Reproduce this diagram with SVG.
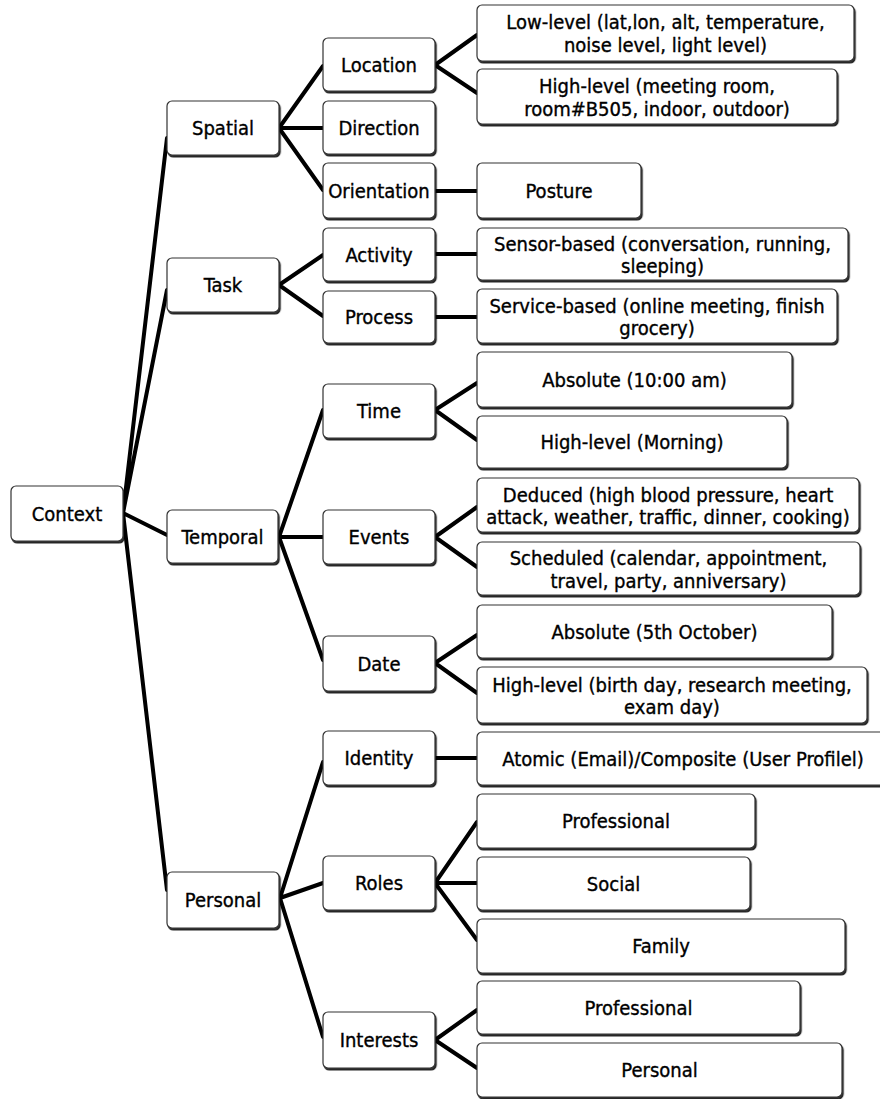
<svg xmlns="http://www.w3.org/2000/svg" width="880" height="1099" viewBox="0 0 880 1099">
<defs>
<filter id="sh" x="-5%" y="-10%" width="115%" height="130%">
<feDropShadow dx="1.2" dy="2" stdDeviation="0.7" flood-color="#000" flood-opacity="0.85"/>
</filter>
<style>
.box{fill:#fff;stroke:#333;stroke-width:1.2;filter:url(#sh)}
.t{font-family:"DejaVu Sans Condensed","DejaVu Sans",sans-serif;font-stretch:condensed;font-size:20px;fill:#000;stroke:#000;stroke-width:0.35;text-anchor:middle}
.c{fill:none;stroke:#000;stroke-width:4;stroke-linecap:round}
</style>
</defs>
<rect width="880" height="1099" fill="#fff"/>
<g id="connectors" class="c">
<path d="M123,513 L167,138 M123,513 L167,290 M123,513 L167,535 M123,513 L167,890"/>
<path d="M279,128 L323,66 M279,128 L323,128 M279,128 L323,190"/>
<path d="M279,285 L323,255 M279,285 L323,316"/>
<path d="M279,537 L323,410 M279,537 L323,537 M279,537 L323,660"/>
<path d="M280,898 L323,762 M280,898 L323,883 M280,898 L323,1037"/>
<path d="M435,65 L477,35 M435,65 L477,93"/>
<path d="M435,191 L477,191 M435,254 L477,254 M435,317 L477,317"/>
<path d="M435,410 L477,383 M435,410 L477,440"/>
<path d="M435,537 L477,507 M435,537 L477,567"/>
<path d="M435,663 L477,635 M435,663 L477,693"/>
<path d="M435,758 L477,758"/>
<path d="M435,883 L477,822 M435,883 L477,883 M435,883 L477,940"/>
<path d="M435,1040 L477,1010 M435,1040 L477,1068"/>
</g>
<g id="context"><rect class="box" x="11" y="486" width="112" height="55" rx="5"/><text class="t" x="67" y="520.5">Context</text></g>
<g id="spatial"><rect class="box" x="167" y="101" width="112" height="54" rx="5"/><text class="t" x="223" y="135">Spatial</text></g>
<g id="task"><rect class="box" x="167" y="258" width="112" height="54" rx="5"/><text class="t" x="223" y="292">Task</text></g>
<g id="temporal"><rect class="box" x="167" y="510" width="111" height="53" rx="5"/><text class="t" x="222.5" y="543.5">Temporal</text></g>
<g id="personal"><rect class="box" x="167" y="872" width="112" height="56" rx="5"/><text class="t" x="223" y="907">Personal</text></g>
<g id="location"><rect class="box" x="323" y="38" width="112" height="53" rx="5"/><text class="t" x="379" y="71.5">Location</text></g>
<g id="direction"><rect class="box" x="323" y="101" width="112" height="53" rx="5"/><text class="t" x="379" y="134.5">Direction</text></g>
<g id="orientation"><rect class="box" x="323" y="163" width="112" height="55" rx="5"/><text class="t" x="379" y="197.5">Orientation</text></g>
<g id="activity"><rect class="box" x="323" y="228" width="112" height="53" rx="5"/><text class="t" x="379" y="261.5">Activity</text></g>
<g id="process"><rect class="box" x="323" y="291" width="112" height="52" rx="5"/><text class="t" x="379" y="324">Process</text></g>
<g id="time"><rect class="box" x="323" y="384" width="112" height="54" rx="5"/><text class="t" x="379" y="418">Time</text></g>
<g id="events"><rect class="box" x="323" y="510" width="112" height="54" rx="5"/><text class="t" x="379" y="544">Events</text></g>
<g id="date"><rect class="box" x="323" y="636" width="112" height="55" rx="5"/><text class="t" x="379" y="670.5">Date</text></g>
<g id="identity"><rect class="box" x="323" y="731" width="112" height="54" rx="5"/><text class="t" x="379" y="765">Identity</text></g>
<g id="roles"><rect class="box" x="323" y="856" width="112" height="54" rx="5"/><text class="t" x="379" y="890">Roles</text></g>
<g id="interests"><rect class="box" x="323" y="1012" width="112" height="56" rx="5"/><text class="t" x="379" y="1047">Interests</text></g>
<g id="low-level"><rect class="box" x="477" y="5" width="377" height="56" rx="5"/><text class="t" x="665.5" y="29">Low-level (lat,lon, alt, temperature,</text><text class="t" x="665.5" y="52">noise level, light level)</text></g>
<g id="high-level-loc"><rect class="box" x="477" y="69" width="360" height="55" rx="5"/><text class="t" x="657" y="92.5">High-level (meeting room,</text><text class="t" x="657" y="115.5">room#B505, indoor, outdoor)</text></g>
<g id="posture"><rect class="box" x="477" y="163" width="164" height="55" rx="5"/><text class="t" x="559" y="197.5">Posture</text></g>
<g id="sensor-based"><rect class="box" x="477" y="228" width="371" height="52" rx="5"/><text class="t" x="662.5" y="250.5">Sensor-based (conversation, running,</text><text class="t" x="662.5" y="273">sleeping)</text></g>
<g id="service-based"><rect class="box" x="477" y="289" width="360" height="54" rx="5"/><text class="t" x="657" y="312.5">Service-based (online meeting, finish</text><text class="t" x="657" y="335">grocery)</text></g>
<g id="absolute-time"><rect class="box" x="477" y="352" width="315" height="55" rx="5"/><text class="t" x="634.5" y="386.5">Absolute (10:00 am)</text></g>
<g id="high-level-time"><rect class="box" x="477" y="416" width="310" height="52" rx="5"/><text class="t" x="632" y="449">High-level (Morning)</text></g>
<g id="deduced"><rect class="box" x="477" y="478" width="382" height="54" rx="5"/><text class="t" x="668" y="501.5">Deduced (high blood pressure, heart</text><text class="t" x="668" y="524">attack, weather, traffic, dinner, cooking)</text></g>
<g id="scheduled"><rect class="box" x="477" y="542" width="383" height="53" rx="5"/><text class="t" x="668.5" y="565">Scheduled (calendar, appointment,</text><text class="t" x="668.5" y="587.5">travel, party, anniversary)</text></g>
<g id="absolute-date"><rect class="box" x="477" y="605" width="355" height="53" rx="5"/><text class="t" x="654.5" y="638.5">Absolute (5th October)</text></g>
<g id="high-level-date"><rect class="box" x="477" y="667" width="390" height="56" rx="5"/><text class="t" x="672" y="691.5">High-level (birth day, research meeting,</text><text class="t" x="672" y="714">exam day)</text></g>
<g id="atomic"><rect class="box" x="477" y="732" width="410" height="53" rx="5"/><text class="t" x="683" y="765.5">Atomic (Email)/Composite (User Profilel)</text></g>
<g id="roles-professional"><rect class="box" x="477" y="794" width="278" height="54" rx="5"/><text class="t" x="616" y="828">Professional</text></g>
<g id="social"><rect class="box" x="477" y="857" width="273" height="53" rx="5"/><text class="t" x="613.5" y="890.5">Social</text></g>
<g id="family"><rect class="box" x="477" y="919" width="368" height="54" rx="5"/><text class="t" x="661" y="953">Family</text></g>
<g id="interests-professional"><rect class="box" x="477" y="981" width="323" height="53" rx="5"/><text class="t" x="638.5" y="1014.5">Professional</text></g>
<g id="interests-personal"><rect class="box" x="477" y="1043" width="365" height="54" rx="5"/><text class="t" x="659.5" y="1077">Personal</text></g>
</svg>
